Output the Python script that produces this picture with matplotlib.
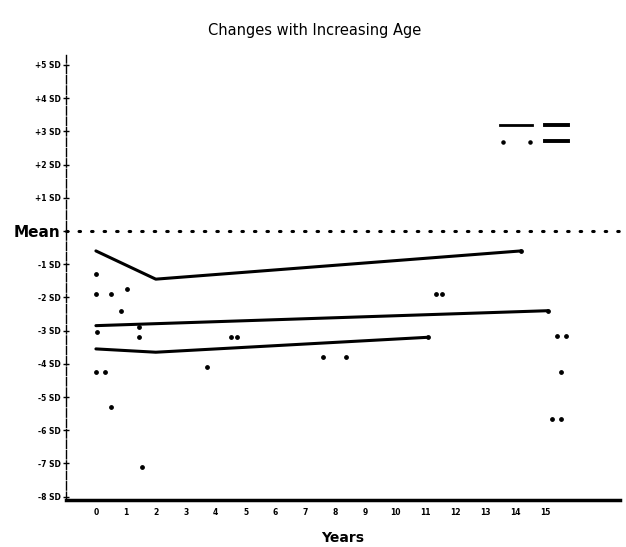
import matplotlib
matplotlib.use("Agg")
import matplotlib.pyplot as plt

# ---- data ----
title = "Changes with Increasing Age"
x_label = "Years"
year_ticks = list(range(0, 16))
sd_ticks = [5, 4, 3, 2, 1, 0, -1, -2, -3, -4, -5, -6, -7, -8]
sd_labels = ["+5 SD", "+4 SD", "+3 SD", "+2 SD", "+1 SD", "Mean",
             "-1 SD", "-2 SD", "-3 SD", "-4 SD", "-5 SD", "-6 SD", "-7 SD", "-8 SD"]

line1_x = [0, 2, 14.2]
line1_y = [-0.6, -1.45, -0.6]
line2_x = [0, 15.1]
line2_y = [-2.85, -2.4]
line3_x = [0, 2, 11.1]
line3_y = [-3.55, -3.65, -3.2]

points_x = [0, 0, 0.5, 1.05, 0.85, 0.05, 1.45, 1.45, 4.5, 4.7, 7.6, 8.35, 3.7,
            0, 0.3, 0.5, 1.55, 11.35, 11.55, 15.4, 15.7, 15.55, 15.25, 15.55,
            14.2, 15.1, 11.1]
points_y = [-1.3, -1.9, -1.9, -1.75, -2.4, -3.05, -3.2, -2.9, -3.2, -3.2, -3.8, -3.8, -4.1,
            -4.25, -4.25, -5.3, -7.1, -1.9, -1.9, -3.15, -3.15, -4.25, -5.65, -5.65,
            -0.6, -2.4, -3.2]

# ---- figure ----
fig = plt.figure(figsize=(6.26, 5.47), dpi=100)
ax = fig.add_axes([0.1054, 0.0859, 0.8846, 0.8136])
ax.set_xlim(-1, 17.5)
ax.set_ylim(-8.1, 5.3)

for xs, ys in [(line1_x, line1_y), (line2_x, line2_y), (line3_x, line3_y)]:
    ax.plot(xs, ys, color="black", lw=2.2, solid_capstyle="round")

ax.scatter(points_x, points_y, s=6, color="black", zorder=3)

# mean dotted line
ax.axhline(0, color="black", lw=2.2, linestyle=(0, (0.5, 3.6)),
           dash_capstyle="round", clip_on=False, xmax=1.03)

# legend (no text in original)
ax.plot([0.783, 0.841], [0.843, 0.843], transform=ax.transAxes, color="black", lw=2)
ax.plot([0.865, 0.906], [0.843, 0.843], transform=ax.transAxes, color="black", lw=2.8)
ax.scatter([0.789, 0.838], [0.804, 0.804], transform=ax.transAxes, s=5, color="black")
ax.plot([0.865, 0.906], [0.806, 0.806], transform=ax.transAxes, color="black", lw=2.8)

# axes styling
for s in ["top", "right"]:
    ax.spines[s].set_visible(False)
ax.spines["left"].set_linewidth(1.0)
ax.spines["left"].set_linestyle((0, (6, 1.5)))
ax.spines["bottom"].set_linewidth(2.5)

ax.set_yticks(sd_ticks)
ax.set_yticklabels(sd_labels)
for lab in ax.get_yticklabels():
    if lab.get_text() == "Mean":
        lab.set_fontsize(11)
        lab.set_fontweight("bold")
    else:
        lab.set_fontsize(5.5)
        lab.set_fontweight("bold")
ax.tick_params(axis="y", direction="inout", length=4, width=1, pad=2)

ax.set_xticks(year_ticks)
ax.set_xticklabels([str(v) for v in year_ticks], fontsize=5.5, fontweight="bold")
ax.tick_params(axis="x", length=0, pad=6)

ax.set_xlabel(x_label, fontsize=10, fontweight="bold", labelpad=10)
fig.text(0.503, 0.945, title, ha="center", va="center", fontsize=10.5)

fig.savefig("out.png", dpi=100)
